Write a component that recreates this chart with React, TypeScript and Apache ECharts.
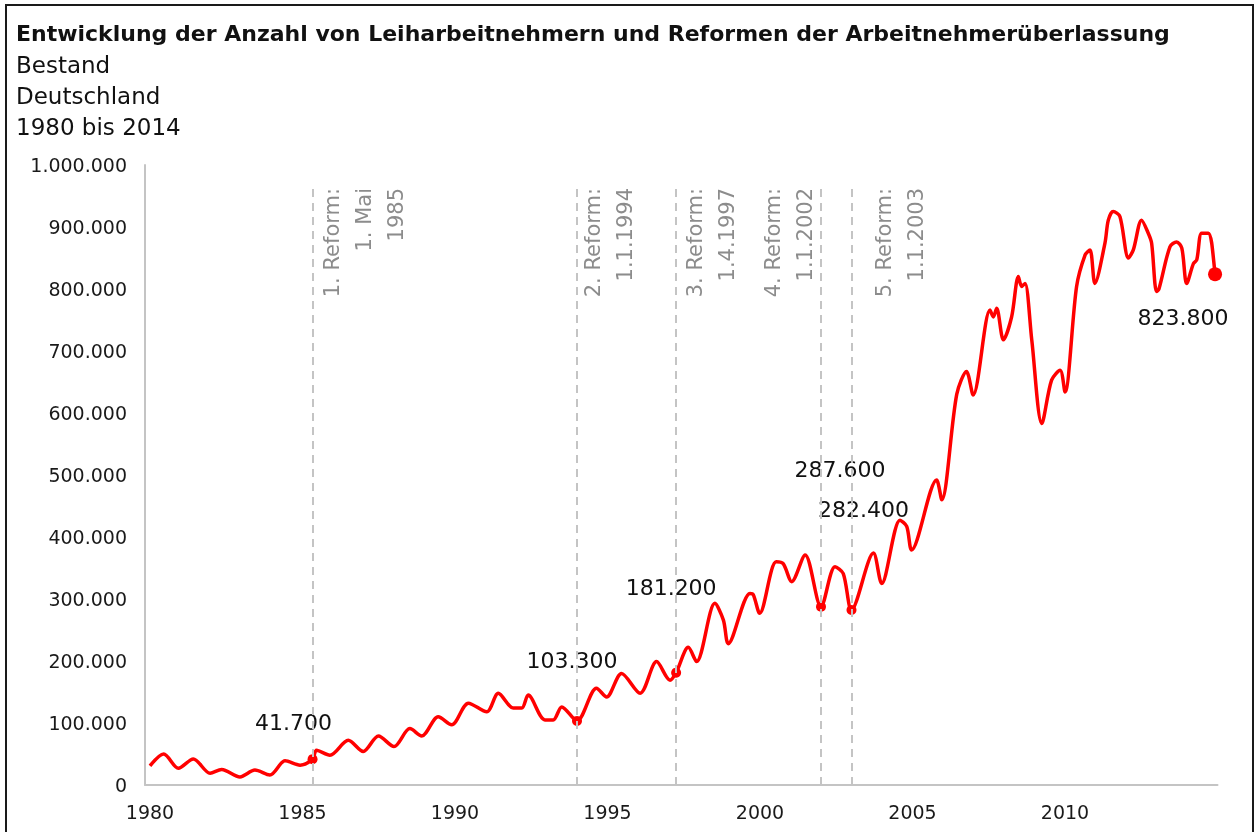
import React, { useEffect, useRef } from 'react';
import * as echarts from 'echarts';

const titel = 'Entwicklung der Anzahl von Leiharbeitnehmern und Reformen der Arbeitnehmerüberlassung';
const untertitel = ['Bestand', 'Deutschland', '1980 bis 2014'];

// Zeitpunkte (Dezimaljahre) und Bestand an Leiharbeitnehmern
const zeit = [
  1980.0, 1980.45, 1980.93, 1981.42, 1981.97, 1982.35, 1982.95, 1983.44, 1983.93, 1984.43,
  1984.92, 1985.33, 1985.46, 1985.9, 1986.5, 1986.99, 1987.49, 1988.0, 1988.52, 1988.91,
  1989.45, 1989.89, 1990.44, 1991.04, 1991.42, 1991.91, 1992.19, 1992.4, 1992.95, 1993.22,
  1993.5, 1994.0, 1994.64, 1994.97, 1995.46, 1996.07, 1996.61, 1997.05, 1997.25, 1997.65,
  1997.92, 1998.52, 1998.8, 1998.96, 1999.67, 1999.78, 1999.99, 2000.53, 2000.76, 2001.04,
  2001.48, 2002.0, 2002.46, 2002.73, 2003.0, 2003.72, 2003.99, 2004.59, 2004.81, 2004.97,
  2005.79, 2005.96, 2006.45, 2006.77, 2006.99, 2007.54, 2007.65, 2007.76, 2007.98, 2008.25,
  2008.47, 2008.58, 2008.69, 2008.91, 2009.24, 2009.56, 2009.84, 2010.0, 2010.38, 2010.66,
  2010.82, 2010.98, 2011.31, 2011.42, 2011.58, 2011.8, 2012.08, 2012.24, 2012.51, 2012.73,
  2012.84, 2013.0, 2013.08, 2013.44, 2013.66, 2013.83, 2013.99, 2014.21, 2014.32, 2014.48,
  2014.7, 2014.81, 2014.92,
];
const bestand = [
  31000, 50000, 27000, 42000, 19000, 25000, 13000, 24000, 16000, 39000,
  32000, 41700, 56000, 48000, 72000, 54000, 79000, 62000, 91000, 79000,
  110000, 97000, 132000, 118000, 148000, 124000, 124000, 145000, 105000, 105000,
  126000, 103300, 156000, 142000, 180000, 148000, 199000, 169000, 181200, 222000,
  199000, 293000, 266000, 228000, 309000, 307000, 277000, 360000, 357000, 328000,
  371000, 287600, 352000, 341000, 282400, 374000, 325000, 427000, 417000, 379000,
  492000, 460000, 630000, 667000, 629000, 766000, 755000, 769000, 718000, 755000,
  820000, 804000, 809000, 718000, 583000, 653000, 669000, 634000, 804000, 855000,
  863000, 809000, 874000, 911000, 925000, 917000, 850000, 863000, 911000, 890000,
  874000, 796000, 800000, 868000, 876000, 866000, 809000, 841000, 847000, 890000,
  890000, 874000, 823800,
];

const jahresTicks = [1980, 1985, 1990, 1995, 2000, 2005, 2010];

const reformZeit = [1985.33, 1994.0, 1997.25, 2002.0, 2003.0];
const reformText = [
  '1. Reform:\n1. Mai\n1985',
  '2. Reform:\n1.1.1994',
  '3. Reform:\n1.4.1997',
  '4. Reform:\n1.1.2002',
  '5. Reform:\n1.1.2003',
];

const markZeit = [1985.33, 1994.0, 1997.25, 2002.0, 2003.0, 2014.92];
const markWert = [41700, 103300, 181200, 287600, 282400, 823800];

// Layout (styling only)
const reformTextDx = [3, 0, 3, -64, 16];
const markLabelOffset = [
  [-19, -37],
  [-5, -60],
  [-5, -85],
  [19, -137],
  [12, -100],
  [-32, 43],
];

const FONT = '"DejaVu Sans", "Liberation Sans", Arial, sans-serif';
const fmt = (v: number) => String(Math.round(v)).replace(/\B(?=(\d{3})+(?!\d))/g, '.');

export default function App() {
  const ref = useRef<HTMLDivElement>(null);
  useEffect(() => {
    if (!ref.current) return;
    const chart = echarts.init(ref.current, null, { renderer: 'svg' });
    const option: any = {
      animation: false,
      textStyle: { fontFamily: FONT },
      title: [
        {
          text: titel,
          left: 16,
          top: 22,
          padding: 0,
          textStyle: { fontSize: 22, fontWeight: 'bold', color: '#111', fontFamily: FONT, lineHeight: 22 },
        },
        {
          text: untertitel.join('\n'),
          left: 16,
          top: 49,
          padding: 0,
          textStyle: { fontSize: 23, fontWeight: 'normal', color: '#111', fontFamily: FONT, lineHeight: 31 },
        },
      ],
      grid: { left: 145, right: 40.5, top: 165, bottom: 47, containLabel: false },
      xAxis: {
        type: 'value',
        min: 1979.836,
        max: 2015,
        axisLine: { show: true, lineStyle: { color: '#c4c4c4', width: 2 } },
        axisTick: { show: false },
        splitLine: { show: false },
        axisLabel: {
          customValues: jahresTicks,
          formatter: (v: number) => String(Math.round(v)),
          fontSize: 19,
          color: '#1a1a1a',
          fontFamily: FONT,
          margin: 17,
        },
      },
      yAxis: {
        type: 'value',
        min: 0,
        max: 1000000,
        interval: 100000,
        axisLine: { show: true, lineStyle: { color: '#c4c4c4', width: 2 } },
        axisTick: { show: false },
        splitLine: { show: false },
        axisLabel: { formatter: fmt, fontSize: 19, color: '#1a1a1a', fontFamily: FONT, margin: 18 },
      },
      series: [
        {
          type: 'line',
          data: zeit.map((t, i) => [t, bestand[i]]),
          showSymbol: false,
          smooth: 0.3,
          lineStyle: { color: '#ff0000', width: 3.5 },
          z: 3,
          markLine: {
            silent: true,
            symbol: ['none', 'none'],
            label: { show: false },
            lineStyle: { color: '#c4c4c4', width: 2, type: [8, 6] },
            data: reformZeit.map((t) => [{ coord: [t, 0] }, { coord: [t, 963000] }]),
          },
        },
        {
          type: 'scatter',
          z: 4,
          data: markZeit.map((t, i) => ({
            value: [t, markWert[i]],
            symbolSize: i === markZeit.length - 1 ? 14 : 10,
            label: { offset: markLabelOffset[i] },
          })),
          itemStyle: { color: '#ff0000', opacity: 1 },
          label: {
            show: true,
            position: 'inside',
            formatter: (p: any) => fmt(p.value[1]),
            fontSize: 22,
            color: '#111111',
            fontFamily: FONT,
            textBorderWidth: 0,
            opacity: 1,
          },
        },
      ],
    };
    chart.setOption(option);

    const graphics: any[] = [
      {
        type: 'rect',
        silent: true,
        shape: { x: 6, y: 5, width: 1247, height: 840 },
        style: { fill: 'none', stroke: '#1a1a1a', lineWidth: 2 },
      },
    ];
    reformZeit.forEach((t, i) => {
      const p = chart.convertToPixel({ gridIndex: 0 }, [t, 963000]) as number[];
      graphics.push({
        type: 'text',
        silent: true,
        x: p[0] + reformTextDx[i],
        y: p[1],
        rotation: Math.PI / 2,
        style: {
          text: reformText[i],
          fill: '#8c8c8c',
          fontSize: 21,
          fontFamily: FONT,
          align: 'right',
          verticalAlign: 'top',
          lineHeight: 32,
        },
      });
    });
    chart.setOption({ graphic: graphics });

    return () => chart.dispose();
  }, []);
  return <div ref={ref} style={{ position: 'fixed', left: 0, top: 0, width: 1258, height: 832 }} />;
}
